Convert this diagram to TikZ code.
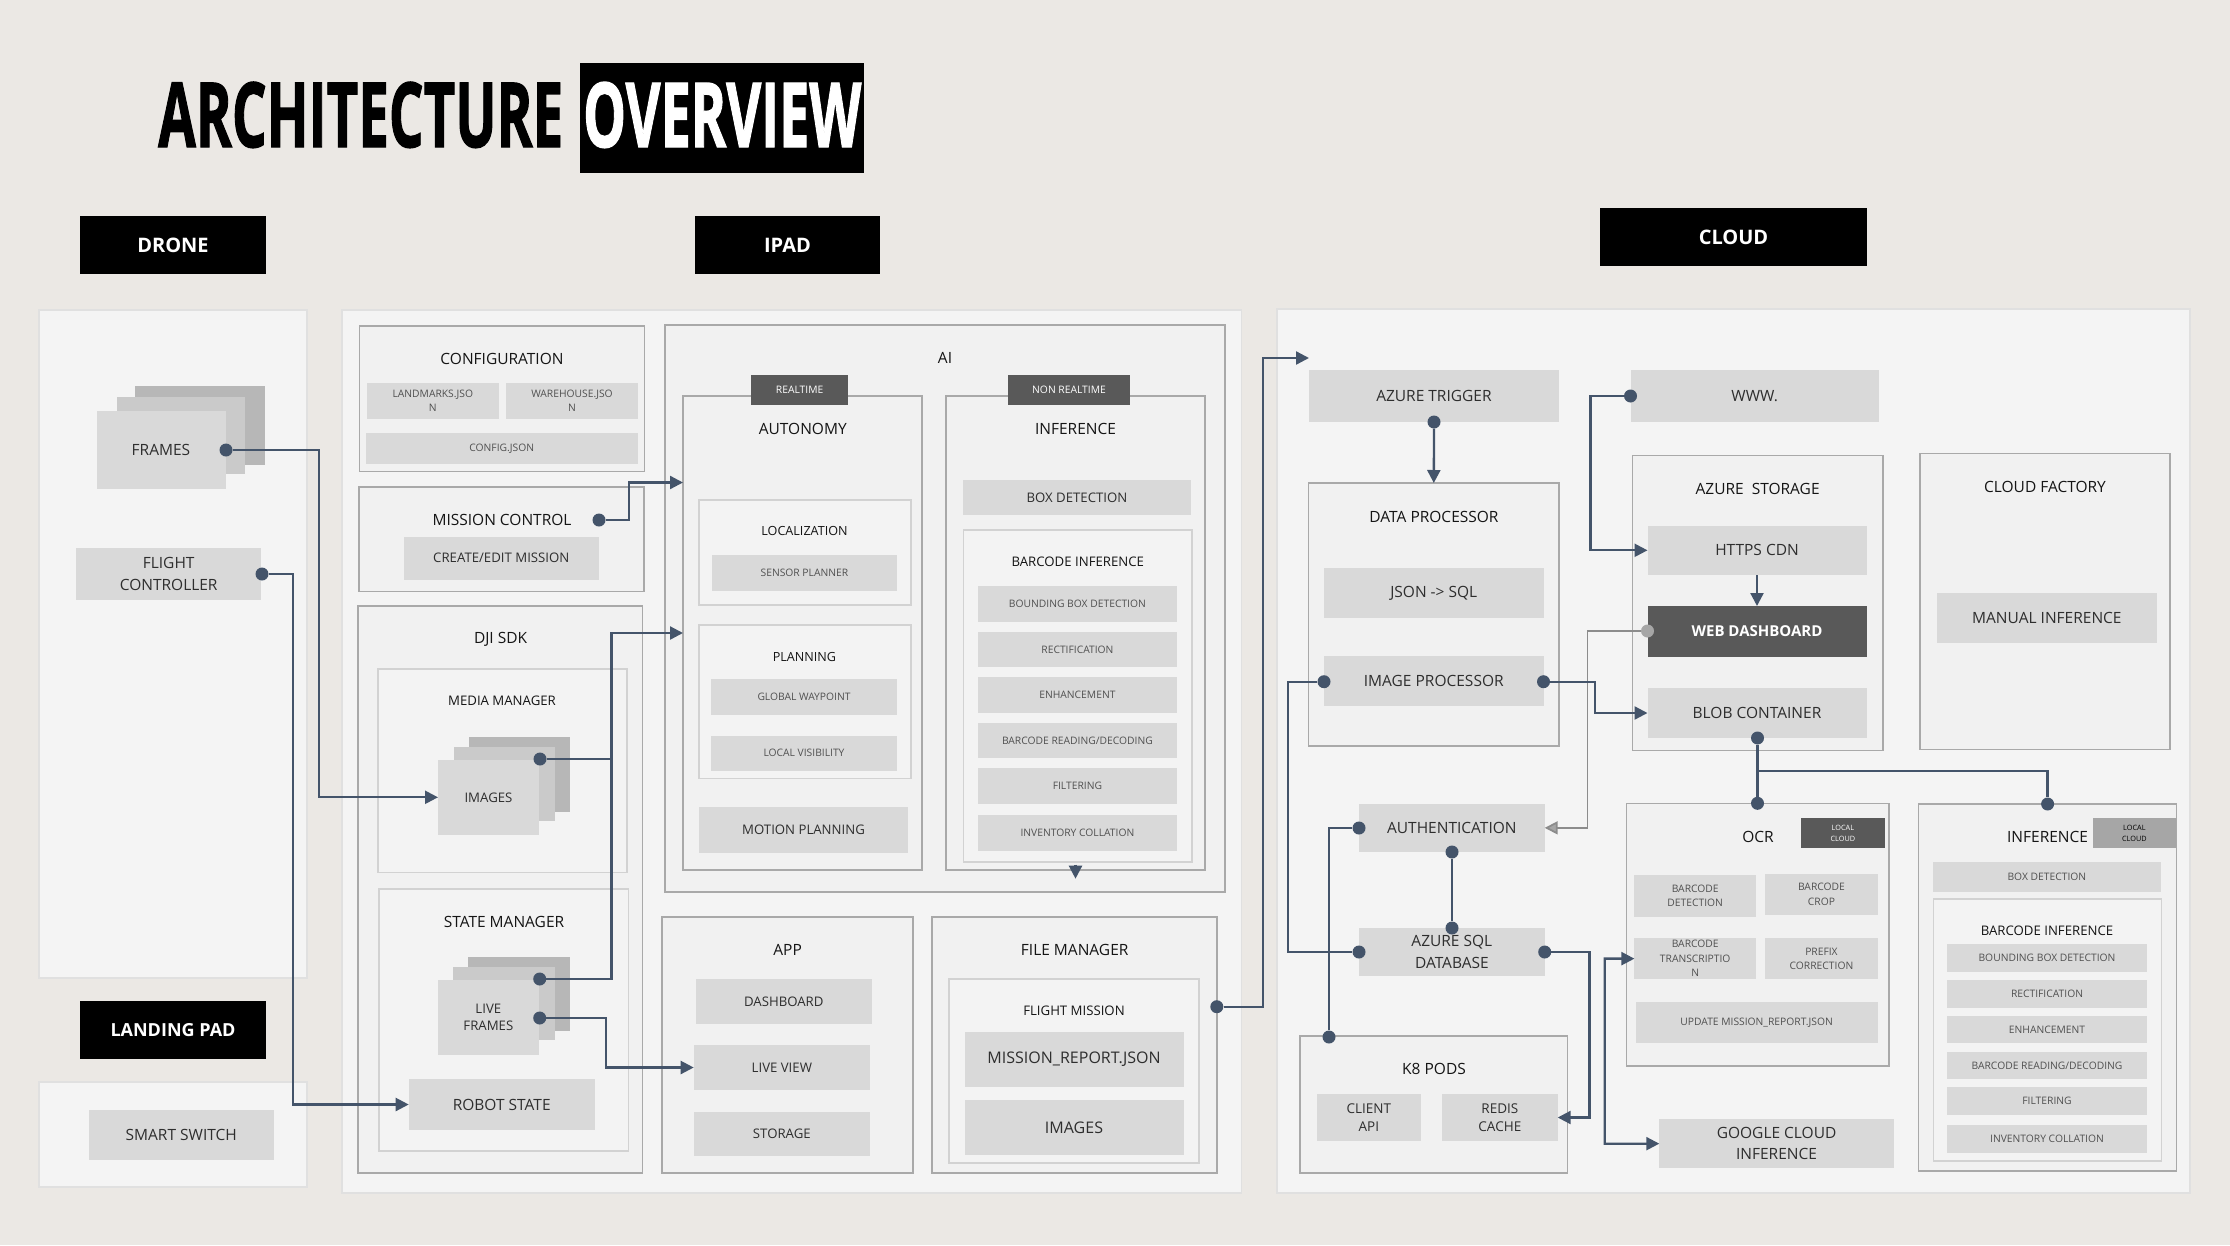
\documentclass[tikz,border=0pt]{standalone}
\usepackage{fontspec}
\setmainfont{Open Sans}
\newfontfamily\ttlfont[FakeBold=1.6]{Open Sans}
\usepackage{graphicx}
\usetikzlibrary{arrows.meta,calc}
\definecolor{bgC}{HTML}{EBE8E4}
\definecolor{panelF}{HTML}{F4F4F4}
\definecolor{panelB}{HTML}{E0E0E0}
\definecolor{contF}{HTML}{F1F1F1}
\definecolor{contB}{HTML}{A9A9A9}
\definecolor{icontF}{HTML}{F3F3F3}
\definecolor{icontB}{HTML}{D2D2D2}
\definecolor{boxF}{HTML}{D9D9D9}
\definecolor{lineC}{HTML}{44546A}
\definecolor{darkF}{HTML}{595959}
\definecolor{tabL}{HTML}{A6A6A6}
\definecolor{stkA}{HTML}{B7B7B7}
\definecolor{stkB}{HTML}{CACACA}
\definecolor{greyLn}{HTML}{8C8C8C}
\definecolor{ttlT}{HTML}{151515}
\definecolor{boxT}{HTML}{2E2E2E}
\definecolor{sboxT}{HTML}{505050}
\newcommand\mybox[7]{%
  \pgfmathsetmacro\mbw{#5-#3}%
  \pgfmathsetmacro\mbh{#6-#4}%
  \pgfmathsetmacro\mbx{(#3+#5)/2}%
  \pgfmathsetmacro\mby{(#4+#6)/2}%
  \node[#1,minimum width=\mbw pt,minimum height=\mbh pt] (#2) at (\mbx,\mby) {#7};}
\tikzset{
  fA/.style={font=\fontsize{15.5}{21.5}\selectfont},
  fB/.style={font=\fontsize{13.2}{17.5}\selectfont},
  fC/.style={font=\fontsize{10.3}{14.5}\selectfont},
  fT/.style={font=\fontsize{7.3}{11}\selectfont},
  panel/.style={draw=panelB, fill=panelF, line width=1.5pt, inner sep=0pt, outer sep=0pt},
  cont/.style={draw=contB, fill=contF, line width=1.6pt, inner sep=0pt, outer sep=0pt},
  icont/.style={draw=icontB, fill=icontF, line width=1.4pt, inner sep=0pt, outer sep=0pt},
  box/.style={fill=boxF, inner sep=0pt, outer sep=0pt, text=boxT, align=center, fA},
  mbox/.style={box, fB},
  sbox/.style={box, text=sboxT, fC},
  stA/.style={fill=stkA, inner sep=0pt, outer sep=0pt},
  stB/.style={fill=stkB, inner sep=0pt, outer sep=0pt},
  hdr/.style={fill=black, text=white, inner sep=0pt, outer sep=0pt, font=\bfseries\fontsize{20}{24}\selectfont},
  ttl/.style={text=ttlT, inner sep=0pt, fA},
  sttl/.style={text=ttlT, inner sep=0pt, fB},
  tabd/.style={fill=darkF, text=white, inner sep=0pt, outer sep=0pt, align=center},
  tabl/.style={fill=tabL, text=black, inner sep=0pt, outer sep=0pt, align=center},
  dot/.style={circle, fill=lineC, inner sep=0pt, minimum size=13pt},
  gdot/.style={circle, fill=tabL, inner sep=0pt, minimum size=13pt},
  conn/.style={draw=lineC, line width=2.3pt},
  arr/.style={conn, -{Triangle[length=13pt,width=13pt]}},
  garr/.style={draw=greyLn, line width=1.8pt, -{Triangle[length=13pt,width=13pt,fill=tabL]}},
}
\begin{document}
\begin{tikzpicture}[x=1pt,y=-1pt]
\useasboundingbox (0,0) rectangle (2230,1245);
\fill[bgC] (0,0) rectangle (2230,1245);

% ---------- title ----------
\node[anchor=base west, inner sep=0pt] (tA) at (158,147) {\resizebox{405pt}{65pt}{\ttlfont\bfseries ARCHITECTURE}};
\mybox{fill=black,inner sep=0pt}{tBox}{580}{63}{864}{173}{}
\node[anchor=base west, inner sep=0pt, text=white] (tO) at (583,147) {\resizebox{278pt}{65pt}{\ttlfont\bfseries OVERVIEW}};

% ---------- headers ----------
\mybox{hdr}{hDrone}{80}{216}{266}{274}{DRONE}
\mybox{hdr}{hIpad}{695}{216}{880}{274}{IPAD}
\mybox{hdr}{hCloud}{1600}{208}{1867}{266}{CLOUD}
\mybox{hdr,font=\bfseries\fontsize{18}{22}\selectfont}{hLand}{80}{1001}{266}{1059}{LANDING PAD}

% ---------- panels ----------
\mybox{panel}{pDrone}{39}{310}{307}{978}{}
\mybox{panel}{pLand}{39}{1082}{307}{1187}{}
\mybox{panel}{pIpad}{342}{310}{1241.5}{1193}{}
\mybox{panel}{pCloud}{1277}{309}{2190}{1193}{}

% ---------- drone ----------
\mybox{stA}{fr3}{135}{386}{265}{465}{}
\mybox{stB}{fr2}{116.5}{396.5}{245}{474}{}
\mybox{box}{fr1}{96.5}{411}{225.5}{489}{FRAMES}
\mybox{box}{bFC}{76}{548}{261.4}{600.4}{FLIGHT\\CONTROLLER}
\mybox{box}{bSS}{88.5}{1110}{274}{1160}{SMART SWITCH}

% ---------- ipad ----------
\mybox{cont}{cConf}{359.4}{326}{644.3}{471.5}{}
\node[ttl] (tConf) at (502,359) {CONFIGURATION};
\mybox{sbox}{bLandm}{367}{383.4}{498.6}{418.6}{LANDMARKS.JSO\\N}
\mybox{sbox}{bWare}{506}{383.4}{638}{418.6}{WAREHOUSE.JSO\\N}
\mybox{sbox}{bCfg}{365.5}{433}{638}{464}{CONFIG.JSON}

\mybox{cont}{cMC}{359}{486.8}{644}{591.6}{}
\node[ttl] (tMC) at (502,520) {MISSION CONTROL};
\mybox{mbox}{bCEM}{404}{536.5}{598.6}{580}{CREATE/EDIT MISSION}

\mybox{cont}{cDJI}{357.8}{605.7}{642.5}{1173}{}
\node[ttl] (tDJI) at (500.6,639.5) {DJI SDK};
\mybox{icont}{cMM}{378}{669}{627}{872.5}{}
\node[sttl] (tMM) at (502,700.7) {MEDIA MANAGER};
\mybox{stA}{im3}{469}{737}{570}{811.7}{}
\mybox{stB}{im2}{453.7}{746.6}{554.5}{821}{}
\mybox{mbox}{im1}{438}{760}{539}{834.6}{IMAGES}
\mybox{icont}{cSM}{379}{889}{628.7}{1151}{}
\node[ttl] (tSM) at (504,921.5) {STATE MANAGER};
\mybox{stA}{lf3}{468}{957}{570}{1031}{}
\mybox{stB}{lf2}{453}{966.6}{554.7}{1040}{}
\mybox{mbox}{lf1}{437.7}{980}{539}{1054.6}{LIVE\\FRAMES}
\mybox{box}{bRS}{408.7}{1079}{594.7}{1130}{ROBOT STATE}

\mybox{cont}{cAI}{664.8}{324.8}{1225}{891.7}{}
\node[ttl] (tAI) at (945,358) {AI};
\mybox{cont}{cAut}{683}{395.8}{922}{869.7}{}
\mybox{tabd,fC}{tabRT}{751}{374.7}{848.3}{405}{REALTIME}
\node[ttl] (tAut) at (802.8,429) {AUTONOMY};
\mybox{icont}{cLoc}{699}{499.8}{910.8}{604.9}{}
\node[sttl,font=\fontsize{12.6}{16}\selectfont] (tLoc) at (804.5,531) {LOCALIZATION};
\mybox{sbox}{bSP}{711.8}{555}{897}{591}{SENSOR PLANNER}
\mybox{icont}{cPlan}{698.8}{625}{910.8}{778.7}{}
\node[sttl,font=\fontsize{12.6}{16}\selectfont] (tPlan) at (804.5,656.6) {PLANNING};
\mybox{sbox}{bGW}{711}{679}{897}{715}{GLOBAL WAYPOINT}
\mybox{sbox}{bLVis}{711}{735.5}{897}{770.6}{LOCAL VISIBILITY}
\mybox{mbox}{bMP}{699}{807}{908}{852.7}{MOTION PLANNING}

\mybox{cont}{cInf}{946}{395.8}{1205}{869.7}{}
\mybox{tabd,fC}{tabNRT}{1008}{374.7}{1130}{405}{NON REALTIME}
\node[ttl] (tInf) at (1075.5,429) {INFERENCE};
\mybox{mbox}{bBD}{963}{480}{1191}{515}{BOX DETECTION}
\mybox{icont}{cBI}{963.7}{530}{1192}{862}{}
\node[sttl] (tBI) at (1077.8,561.6) {BARCODE INFERENCE};
\mybox{sbox}{r1}{977.8}{586}{1177}{621.5}{BOUNDING BOX DETECTION}
\mybox{sbox}{r2}{977.8}{632}{1177}{667}{RECTIFICATION}
\mybox{sbox}{r3}{977.8}{677}{1177}{712.5}{ENHANCEMENT}
\mybox{sbox}{r4}{977.8}{723}{1177}{758.4}{BARCODE READING/DECODING}
\mybox{sbox}{r5}{977.8}{768}{1177}{804}{FILTERING}
\mybox{sbox}{r6}{977.8}{815}{1177}{851}{INVENTORY COLLATION}

\mybox{cont}{cApp}{662}{917}{912.7}{1173}{}
\node[ttl] (tApp) at (787.6,950) {APP};
\mybox{mbox}{bDash}{695.5}{979}{872}{1024}{DASHBOARD}
\mybox{mbox}{bLV}{693.7}{1045}{870}{1090}{LIVE VIEW}
\mybox{mbox}{bSto}{693.7}{1112}{870}{1156}{STORAGE}

\mybox{cont}{cFM}{932}{917}{1217}{1173}{}
\node[ttl] (tFM) at (1074.7,950) {FILE MANAGER};
\mybox{icont}{cFMi}{949}{979}{1199}{1163}{}
\node[sttl] (tFMi) at (1074,1010.7) {FLIGHT MISSION};
\mybox{box,font=\fontsize{16}{20}\selectfont}{bMR}{964.5}{1032}{1183.5}{1087}{MISSION\_REPORT.JSON}
\mybox{box,font=\fontsize{16}{20}\selectfont}{bIm}{964.5}{1100}{1183.5}{1155}{IMAGES}

% ---------- cloud ----------
\mybox{box}{bAT}{1309.4}{370}{1558.5}{421.7}{AZURE TRIGGER}
\mybox{cont}{cDP}{1308.6}{483}{1559}{746}{}
\node[ttl] (tDP) at (1434,516.7) {DATA PROCESSOR};
\mybox{box}{bJS}{1324}{568}{1543.5}{618}{JSON -> SQL}
\mybox{box}{bIP}{1324}{656}{1543.5}{706}{IMAGE PROCESSOR}

\mybox{box}{bWWW}{1630.5}{370}{1878.8}{422}{WWW.}
\mybox{cont}{cAS}{1632.5}{455.5}{1882.7}{750.5}{}
\node[ttl] (tAS) at (1757.6,488.5) {AZURE~~STORAGE};
\mybox{box}{bCDN}{1647.5}{525.6}{1866.5}{575}{HTTPS CDN}
\mybox{box,fill=darkF,text=white,font=\bfseries\fontsize{15}{19}\selectfont}{bWD}{1647.5}{606}{1866.5}{656.5}{WEB DASHBOARD}
\mybox{box}{bBlob}{1647.5}{688}{1866.5}{738}{BLOB CONTAINER}

\mybox{cont}{cCF}{1920}{453.6}{2170}{749.5}{}
\node[ttl] (tCF) at (2045,487) {CLOUD FACTORY};
\mybox{box}{bMI}{1937}{592.5}{2156.7}{643}{MANUAL INFERENCE}

\mybox{box}{bAuth}{1359}{804}{1544.7}{851.7}{AUTHENTICATION}
\mybox{box}{bSQL}{1359}{928}{1544.7}{976}{AZURE SQL\\DATABASE}
\mybox{cont}{cK8}{1300}{1036}{1567.6}{1173}{}
\node[ttl] (tK8) at (1434,1069.3) {K8 PODS};
\mybox{box,font=\fontsize{13.5}{18.5}\selectfont}{bCli}{1316.5}{1094.3}{1421.3}{1140.7}{CLIENT\\API}
\mybox{box,font=\fontsize{13.5}{18.5}\selectfont}{bRed}{1442}{1094.3}{1557.7}{1140.7}{REDIS\\CACHE}

\mybox{cont}{cOCR}{1626.5}{803.3}{1888.7}{1066}{}
\node[ttl] (tOCR) at (1758,837.3) {OCR};
\mybox{tabd,fT}{tabOCR}{1801}{818.3}{1884.7}{848.3}{LOCAL\\CLOUD}
\mybox{sbox}{bBDt}{1634.4}{875}{1756}{916.7}{BARCODE\\DETECTION}
\mybox{sbox}{bBCr}{1765.3}{874}{1877.6}{915}{BARCODE\\CROP}
\mybox{sbox}{bBTr}{1634.4}{938.3}{1756}{979}{BARCODE\\TRANSCRIPTIO\\N}
\mybox{sbox}{bPre}{1765.3}{938.3}{1877.6}{979}{PREFIX\\CORRECTION}
\mybox{sbox}{bUpd}{1635.6}{1002.3}{1877.6}{1043.3}{UPDATE MISSION\_REPORT.JSON}
\mybox{box}{bGCI}{1659.3}{1119}{1893.8}{1168.3}{GOOGLE CLOUD\\INFERENCE}

\mybox{cont}{cInf2}{1918.3}{804}{2176.5}{1171}{}
\node[ttl] (tInf2) at (2047.6,837.3) {INFERENCE};
\mybox{tabl,fT}{tabInf2}{2092.7}{818.3}{2176}{848.3}{LOCAL\\CLOUD}
\mybox{sbox}{bBD2}{1933}{862.3}{2160.7}{892.3}{BOX DETECTION}
\mybox{icont}{cBI2}{1933.3}{899}{2161.5}{1161}{}
\node[sttl] (tBI2) at (2047,930.7) {BARCODE INFERENCE};
\mybox{sbox}{s1}{1947}{944}{2147}{971.7}{BOUNDING BOX DETECTION}
\mybox{sbox}{s2}{1947}{980}{2147}{1007.7}{RECTIFICATION}
\mybox{sbox}{s3}{1947}{1015.7}{2147}{1043.3}{ENHANCEMENT}
\mybox{sbox}{s4}{1947}{1051.7}{2147}{1079.3}{BARCODE READING/DECODING}
\mybox{sbox}{s5}{1947}{1087.3}{2147}{1115}{FILTERING}
\mybox{sbox}{s6}{1947}{1125}{2147}{1152.7}{INVENTORY COLLATION}

% ---------- dots ----------
\node[dot] (dFrames) at (226,450) {};
\node[dot] (dFC) at (262,574) {};
\node[dot] (dMC) at (599,520) {};
\node[dot] (dImg) at (540,759) {};
\node[dot] (dLF1) at (539.7,979) {};
\node[dot] (dLF2) at (539.7,1018) {};
\node[dot] (dFM) at (1216.8,1006.7) {};
\node[dot] (dAT) at (1434,422) {};
\node[dot] (dIPl) at (1324,681.7) {};
\node[dot] (dIPr) at (1543.5,681.7) {};
\node[dot] (dWWW) at (1630.5,396) {};
\node[gdot] (dWD) at (1647.5,631) {};
\node[dot] (dBlob) at (1757.5,738) {};
\node[dot] (dOCR) at (1757.5,803.3) {};
\node[dot] (dInf2) at (2047.6,804) {};
\node[dot] (dAuthL) at (1359,828) {};
\node[dot] (dAuthB) at (1452,852) {};
\node[dot] (dSQLt) at (1452,928) {};
\node[dot] (dSQLl) at (1359,952) {};
\node[dot] (dSQLr) at (1544.7,952) {};
\node[dot] (dK8) at (1329,1037) {};

\coordinate (aIn1) at (683,482.5);
\coordinate (aIn2) at (683,633);
\coordinate (cIn) at (1309,358);
\coordinate (jB) at (1757.5,771);

% ---------- connectors ----------
\draw[arr] (dFrames) -- (319,450) |- (im1.west);
\draw[arr] (dFC) -- (293,574) |- (bRS.west);
\draw[arr] (dMC) -- (629,520) |- (aIn1);
\draw[conn] (dImg) -- (611.5,759);
\draw[arr] (dLF1) -- (611.5,979) |- (aIn2);
\draw[arr] (dLF2) -- (605.7,1018) |- (bLV.west);
\draw[arr] ($(cInf.south)+(0,-5)$) -- ($(cInf.south)+(0,9)$);
\draw[arr] (dFM) -- (1262.7,1006.7) |- (cIn);
\draw[arr] (dAT) -- (cDP.north);
\draw[arr] (dWWW) -- (1590.6,396) |- (bCDN.west);
\draw[arr] (bCDN.south) -- (bWD.north);
\draw[garr] (dWD) -- (1587.4,631) |- (bAuth.east);
\draw[arr] (dIPr) -- (1595.3,681.7) |- (bBlob.west);
\draw[conn] (dBlob) -- (dOCR);
\draw[conn] (jB) -| (dInf2);
\draw[conn] (dIPl) -- (1287.7,681.7) |- (dSQLl);
\draw[conn] (dAuthB) -- (dSQLt);
\draw[conn] (dAuthL) -| (dK8);
\draw[arr] (dSQLr) -- (1589.4,952) |- (bRed.east);
\draw[conn, {Triangle[length=13pt,width=13pt]}-{Triangle[length=13pt,width=13pt]}] (bBTr.west) -- (1604.8,958.6) |- (bGCI.west);
\end{tikzpicture}
\end{document}
